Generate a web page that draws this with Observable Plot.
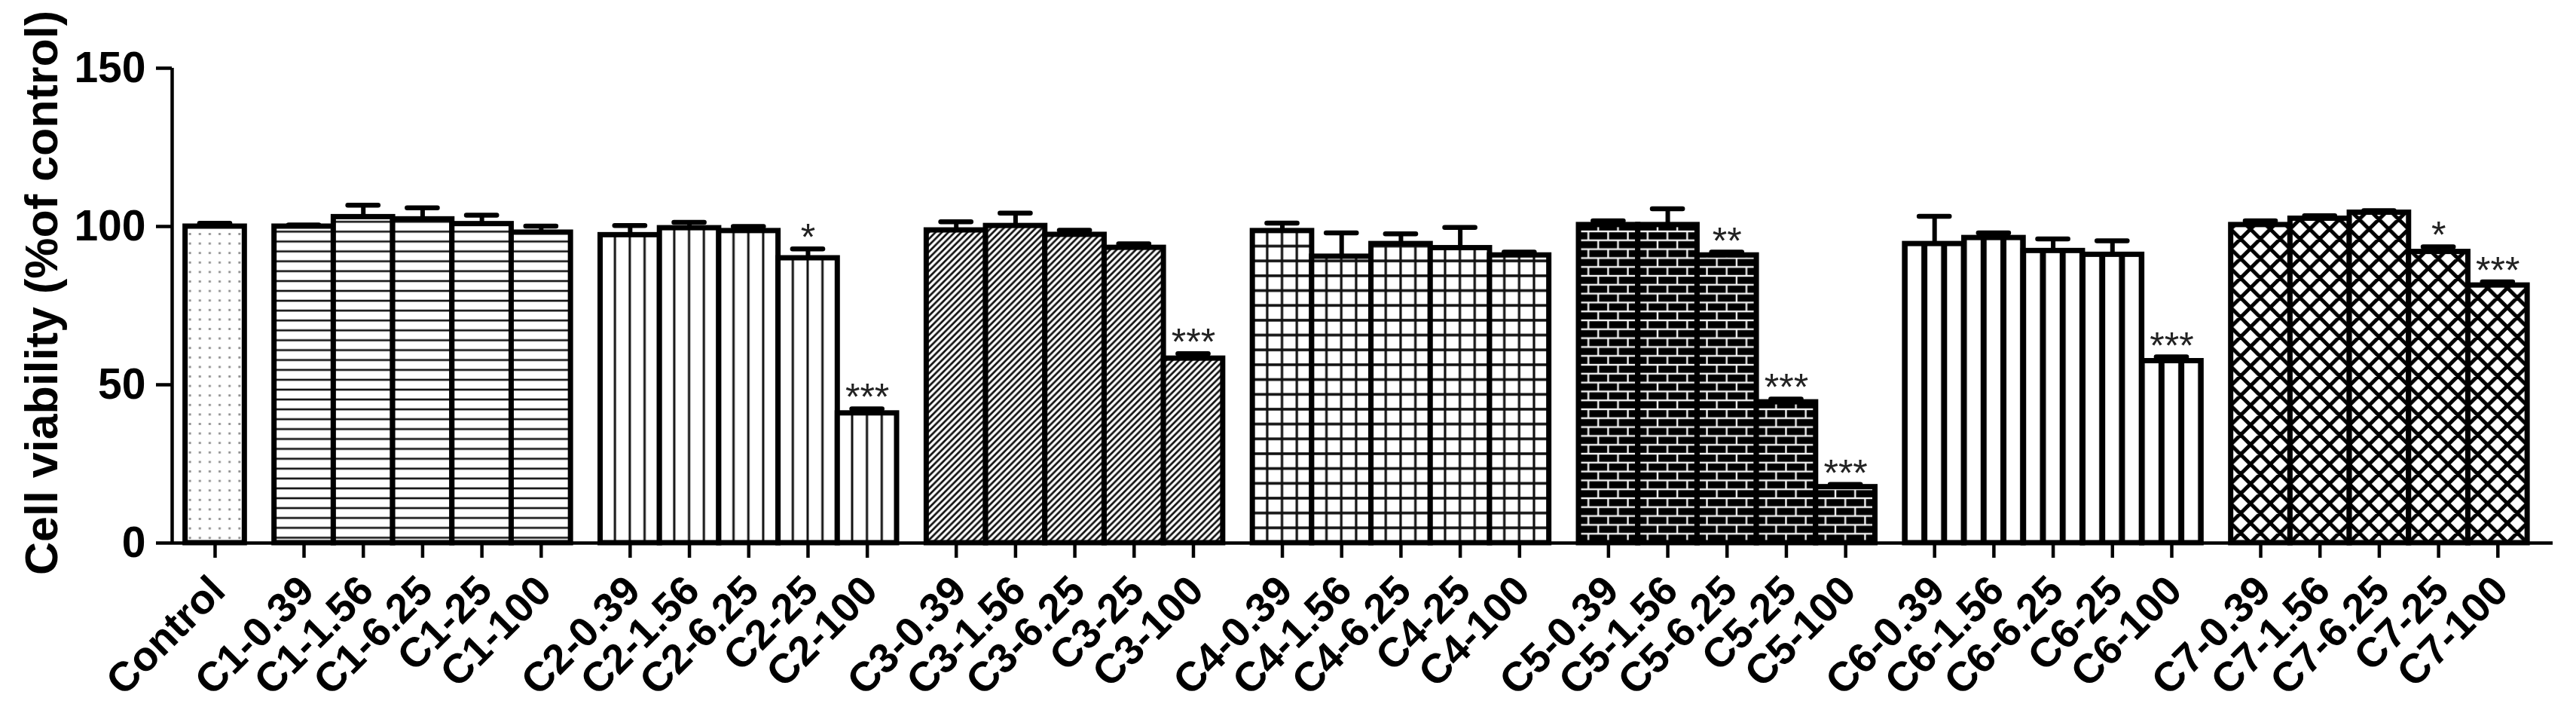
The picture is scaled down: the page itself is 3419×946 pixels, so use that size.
<!DOCTYPE html>
<html>
<head>
<meta charset="utf-8">
<script src="https://cdn.jsdelivr.net/npm/d3@7"></script>
<script src="https://cdn.jsdelivr.net/npm/@observablehq/plot@0.6"></script>
<style>
html, body { margin: 0; padding: 0; background: #fff; }
#chart svg { display: block; }
</style>
</head>
<body>
<div id="chart"></div>
<script>
// ---- data ----
const yTitle = "Cell viability (%of control)";
const yTicks = [0, 50, 100, 150];
const controlLabel = "Control";
const controlMean = 100.0;
const controlErr = 1.0;
const groups = ["C1", "C2", "C3", "C4", "C5", "C6", "C7"];
const concentrations = ["0.39", "1.56", "6.25", "25", "100"];

const c1Mean = [100.0, 103.0, 102.3, 100.8, 98.1];
const c1Err  = [0.5, 3.7, 3.6, 2.8, 2.0];
const c1Stars = ["", "", "", "", ""];

const c2Mean = [97.3, 99.5, 98.6, 90.0, 41.0];
const c2Err  = [3.0, 1.8, 1.4, 2.9, 1.4];
const c2Stars = ["", "", "", "*", "***"];

const c3Mean = [98.8, 100.2, 97.4, 93.3, 58.3];
const c3Err  = [2.7, 4.0, 1.4, 1.2, 1.5];
const c3Stars = ["", "", "", "", "***"];

const c4Mean = [98.6, 90.5, 94.5, 93.2, 90.9];
const c4Err  = [2.5, 7.5, 3.2, 6.5, 1.0];
const c4Stars = ["", "", "", "", ""];

const c5Mean = [100.5, 100.5, 90.9, 44.5, 17.7];
const c5Err  = [1.3, 5.1, 1.0, 1.0, 0.8];
const c5Stars = ["", "", "**", "***", "***"];

const c6Mean = [94.5, 96.4, 92.3, 91.1, 57.5];
const c6Err  = [8.7, 1.6, 3.8, 4.4, 1.3];
const c6Stars = ["", "", "", "", "***"];

const c7Mean = [100.5, 102.5, 104.4, 92.0, 81.4];
const c7Err  = [1.3, 0.9, 0.6, 1.6, 1.1];
const c7Stars = ["", "", "", "*", "***"];

const groupMeans = [c1Mean, c2Mean, c3Mean, c4Mean, c5Mean, c6Mean, c7Mean];
const groupErrs  = [c1Err, c2Err, c3Err, c4Err, c5Err, c6Err, c7Err];
const groupStars = [c1Stars, c2Stars, c3Stars, c4Stars, c5Stars, c6Stars, c7Stars];

// ---- build table: positions from category order (half-bar gap between groups) ----
const rows = [{group: "Control", label: controlLabel, pos: 0, mean: controlMean, err: controlErr, stars: ""}];
groups.forEach((g, gi) => {
  concentrations.forEach((c, j) => {
    rows.push({
      group: g,
      label: `${g}-${c}`,
      pos: 1.5 + gi * 5.5 + j,
      mean: groupMeans[gi][j],
      err: groupErrs[gi][j],
      stars: groupStars[gi][j]
    });
  });
});

const W = 3419, H = 946;
const mL = 228, mR = 31, mT = 90, mB = 226;
const xDomain = [-0.724, 39.43];
const halfBar = 0.5;
const capHalf = 0.255;

// ---- hatch patterns ----
function patterns(index, scales) {
  const xs = (scales && scales.x) ? scales.x : d3.scaleLinear(xDomain, [mL, W - mR]);
  const ys = (scales && scales.y) ? scales.y : d3.scaleLinear([0, 150], [H - mB, mT]);
  const step = xs(1) - xs(0);
  const y0 = ys(0);
  const defs = d3.create("svg:defs");
  const firstPos = g => d3.min(rows.filter(d => d.group === g), d => d.pos);
  function pat(id, g, w, h, bg) {
    const p = defs.append("pattern").attr("id", id)
      .attr("patternUnits", "userSpaceOnUse")
      .attr("x", xs(firstPos(g) - halfBar)).attr("y", y0)
      .attr("width", w).attr("height", h);
    p.append("rect").attr("width", w).attr("height", h).attr("fill", bg);
    return p;
  }
  // Control: sparse grey dots
  {
    const w = step / 6, h = 12.6;
    const p = pat("pat-Control", "Control", w, h, "#fff");
    p.append("rect").attr("x", w / 2 - 1.4).attr("y", h / 2 - 1.4).attr("width", 2.8).attr("height", 2.8).attr("fill", "#8a8a8a");
  }
  // C1: horizontal lines
  {
    const w = 20, h = 13.1;
    const p = pat("pat-C1", "C1", w, h, "#fff");
    p.append("rect").attr("x", 0).attr("y", h / 2 - 1.3).attr("width", w).attr("height", 2.6).attr("fill", "#111");
  }
  // C2: thin vertical lines (4 per bar)
  {
    const w = step / 4, h = 20;
    const p = pat("pat-C2", "C2", w, h, "#fff");
    p.append("rect").attr("x", 0).attr("y", 0).attr("width", 1.5).attr("height", h).attr("fill", "#111");
    p.append("rect").attr("x", w - 1.5).attr("y", 0).attr("width", 1.5).attr("height", h).attr("fill", "#111");
  }
  // C3: diagonal lines "/"
  {
    const w = 8.5, h = 8.5;
    const p = pat("pat-C3", "C3", w, h, "#fff");
    let d = "";
    for (const ox of [-w, 0, w]) for (const oy of [-h, 0, h]) d += `M${ox},${oy + h}L${ox + w},${oy}`;
    p.append("path").attr("d", d).attr("stroke", "#111").attr("stroke-width", 2.7).attr("fill", "none");
  }
  // C4: square grid
  {
    const w = step / 4, h = step / 4;
    const p = pat("pat-C4", "C4", w, h, "#fff");
    p.append("rect").attr("x", 0).attr("y", 0).attr("width", 1.6).attr("height", h).attr("fill", "#111");
    p.append("rect").attr("x", w - 1.6).attr("y", 0).attr("width", 1.6).attr("height", h).attr("fill", "#111");
    p.append("rect").attr("x", 0).attr("y", 0).attr("width", w).attr("height", 1.8).attr("fill", "#111");
    p.append("rect").attr("x", 0).attr("y", h - 1.8).attr("width", w).attr("height", 1.8).attr("fill", "#111");
  }
  // C5: bricks (black with white mortar)
  {
    const w = step / 3, h = 23.6, r = h / 2, t = 1.2;
    const p = pat("pat-C5", "C5", w, h, "#000");
    const m = "#f0f0f0";
    p.append("rect").attr("x", 0).attr("y", 0).attr("width", w).attr("height", t).attr("fill", m);
    p.append("rect").attr("x", 0).attr("y", h - t).attr("width", w).attr("height", t).attr("fill", m);
    p.append("rect").attr("x", 0).attr("y", r - t).attr("width", w).attr("height", 2 * t).attr("fill", m);
    p.append("rect").attr("x", 0).attr("y", 0).attr("width", t).attr("height", r).attr("fill", m);
    p.append("rect").attr("x", w - t).attr("y", 0).attr("width", t).attr("height", r).attr("fill", m);
    p.append("rect").attr("x", w / 2 - t).attr("y", r).attr("width", 2 * t).attr("height", r).attr("fill", m);
  }
  // C6: thick vertical lines (3 columns per bar)
  {
    const w = step / 3, h = 20;
    const p = pat("pat-C6", "C6", w, h, "#fff");
    p.append("rect").attr("x", 0).attr("y", 0).attr("width", 4).attr("height", h).attr("fill", "#000");
    p.append("rect").attr("x", w - 4).attr("y", 0).attr("width", 4).attr("height", h).attr("fill", "#000");
  }
  // C7: diamond cross-hatch
  {
    const w = step / 3, h = 26;
    const p = pat("pat-C7", "C7", w, h, "#fff");
    let d = "";
    for (const ox of [-w, 0, w]) for (const oy of [-h, 0, h]) {
      d += `M${ox},${oy}L${ox + w},${oy + h}M${ox + w},${oy}L${ox},${oy + h}`;
    }
    p.append("path").attr("d", d).attr("stroke", "#000").attr("stroke-width", 5).attr("fill", "none");
  }
  return defs.node();
}

const barMarks = ["Control", ...groups].map(g =>
  Plot.rect(rows.filter(d => d.group === g), {
    x1: d => d.pos - halfBar,
    x2: d => d.pos + halfBar,
    y1: 0,
    y2: "mean",
    fill: `url(#pat-${g})`,
    stroke: "#000",
    strokeWidth: 7
  })
);

const chart = Plot.plot({
  width: W,
  height: H,
  marginLeft: mL,
  marginRight: mR,
  marginTop: mT,
  marginBottom: mB,
  x: {type: "linear", domain: xDomain, axis: null},
  y: {type: "linear", domain: [0, 150], axis: null},
  style: {background: "#fff", fontFamily: "'Liberation Sans', Arial, sans-serif", fontWeight: "bold", color: "#000"},
  marks: [
    patterns,
    ...barMarks,
    // error bars (upper only)
    Plot.ruleX(rows, {x: "pos", y1: "mean", y2: d => d.mean + d.err, stroke: "#000", strokeWidth: 6}),
    Plot.ruleY(rows, {y: d => d.mean + d.err, x1: d => d.pos - capHalf, x2: d => d.pos + capHalf, stroke: "#000", strokeWidth: 6.5, strokeLinecap: "round"}),
    // significance stars
    Plot.text(rows.filter(d => d.stars), {
      x: "pos", y: d => d.mean + d.err, text: "stars",
      lineAnchor: "bottom", dy: 2, fontSize: 50, fontWeight: "normal", fill: "#222"
    }),
    // axes lines
    Plot.ruleY([0], {stroke: "#000", strokeWidth: 4.5}),
    Plot.ruleX([xDomain[0]], {y1: 0, y2: 150, stroke: "#000", strokeWidth: 4.5}),
    Plot.axisY(yTicks, {tickSize: 21, tickPadding: 14, fontSize: 57, strokeWidth: 4.5, label: null}),
    Plot.axisX(rows.map(d => d.pos), {tickSize: 20, strokeWidth: 4.5, tickFormat: () => "", label: null}),
    // x tick labels
    Plot.text(rows, {
      x: "pos", frameAnchor: "bottom", text: "label",
      rotate: -45, textAnchor: "end", lineAnchor: "middle",
      dx: 4, dy: 54, fontSize: 55, fontWeight: "bold"
    }),
    // y title
    Plot.text([yTitle], {
      frameAnchor: "left", text: d => d, rotate: -90,
      textAnchor: "middle", lineAnchor: "bottom",
      dx: 75 - mL, dy: -17, fontSize: 61, fontWeight: "bold"
    })
  ]
});

document.getElementById("chart").appendChild(chart);
</script>
</body>
</html>
